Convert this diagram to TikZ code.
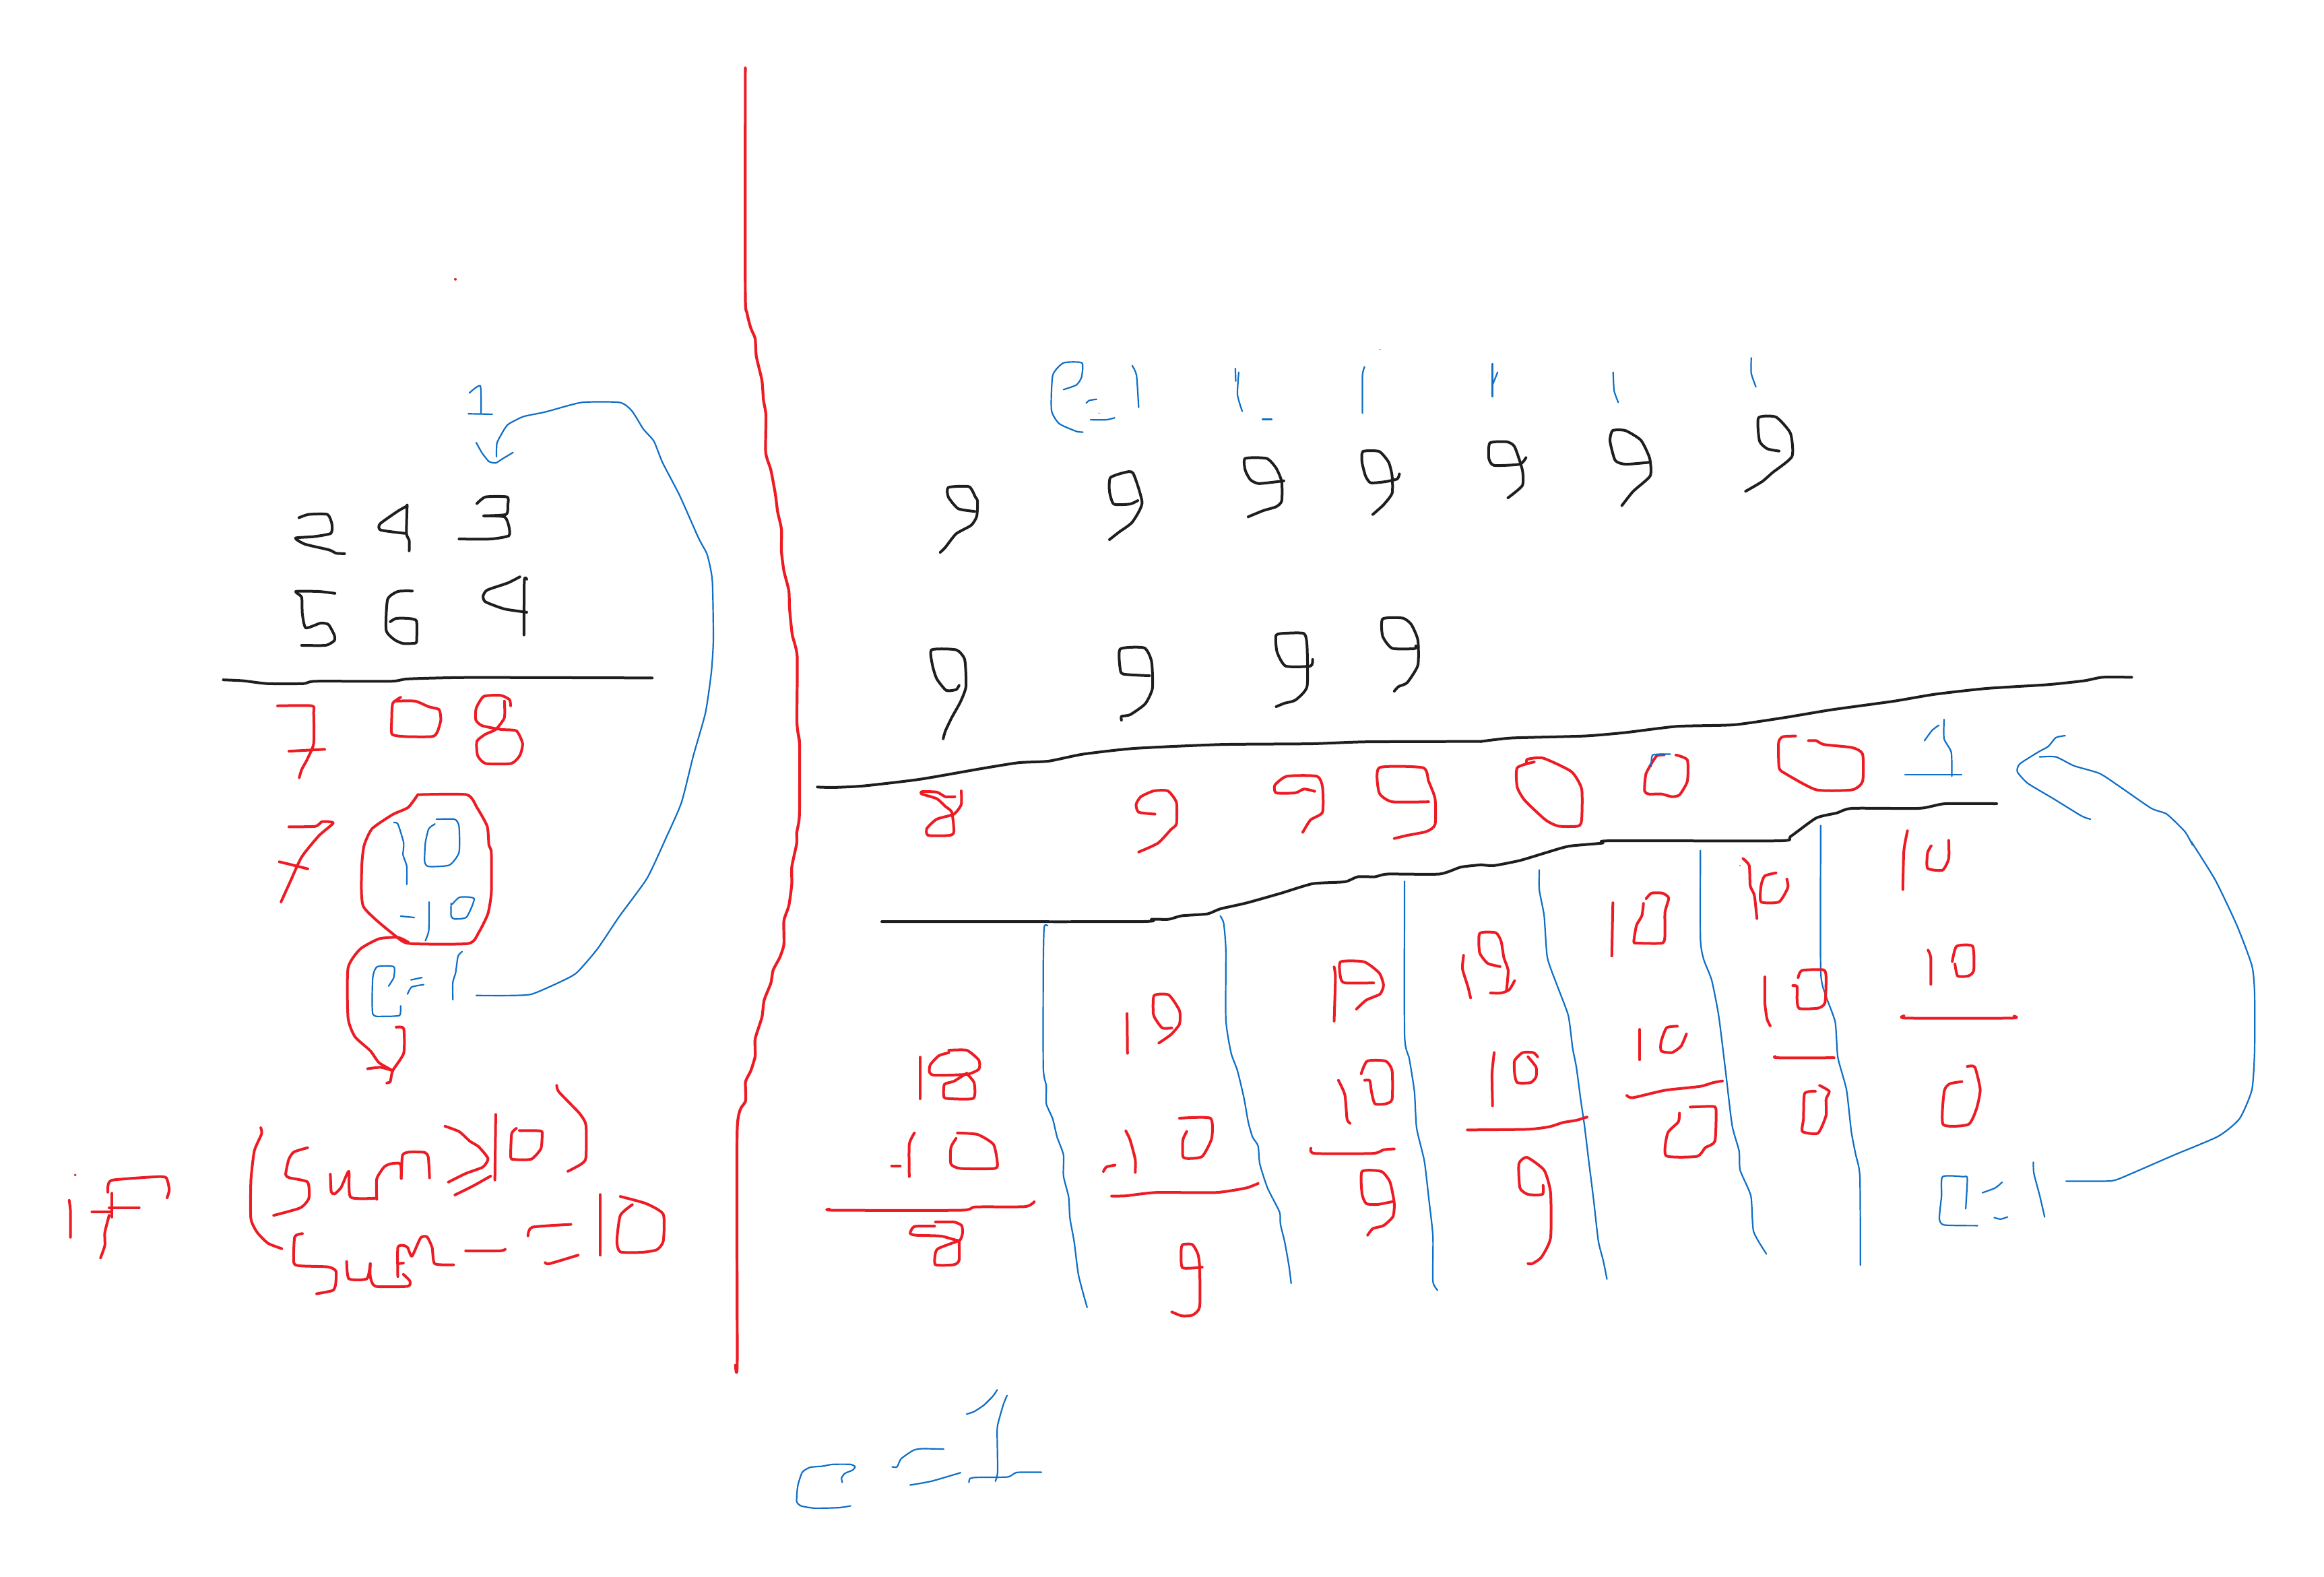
\documentclass[tikz,border=0pt]{standalone}
\usepackage{xcolor}
\definecolor{inkred}{HTML}{ED1C24}
\definecolor{inkblack}{HTML}{1E1E1E}
\definecolor{inkblue}{HTML}{0F6FC6}
\tikzset{
  zv/.style n args={4}{shift={(#1*0.01cm,-#2*0.01cm)},
     x={(#3*0.28453pt,0pt)},y={(0pt,-#4*0.28453pt)}},
  redink/.style={draw=inkred,line width=0.04cm,line cap=round,line join=round},
  blackink/.style={draw=inkblack,line width=0.04cm,line cap=round,line join=round},
  blueink/.style={draw=inkblue,line width=0.022cm,line cap=round,line join=round}
}
\newcommand\rstroke[1]{\draw[redink] plot[smooth,tension=0.35] coordinates {#1};}
\newcommand\kstroke[1]{\draw[blackink] plot[smooth,tension=0.35] coordinates {#1};}
\newcommand\bstroke[1]{\draw[blueink] plot[smooth,tension=0.35] coordinates {#1};}
\begin{document}
\begin{tikzpicture}
\fill[white] (0,0) rectangle (34.5,-23.4);
\useasboundingbox (0,0) rectangle (34.5,-23.4);
% ---------- left sum
\begin{scope}[zv={300}{550}{800/1568}{1100/1568}]
\bstroke{(778,48)(810,33)(812,92)}
\bstroke{(775,92)(845,93)}
\bstroke{(798,153)(815,175)(835,193)(855,196)(875,187)(905,174)}
\bstroke{(857,183)(858,155)(870,137)(890,115)(935,98)(1000,88)(1105,68)(1215,68)(1250,85)(1285,125)(1315,150)(1340,195)(1390,265)(1445,355)(1470,390)(1485,445)(1488,570)(1482,640)(1465,725)(1430,815)(1395,915)(1350,990)(1295,1075)(1215,1155)(1150,1225)(1090,1275)(1040,1295)(960,1320)(900,1323)(798,1323)}
\kstroke{(282,312)(310,305)(365,305)(378,325)(375,345)(325,352)(272,355)(300,368)(370,380)(390,387)(415,388)}
\kstroke{(597,287)(570,298)(518,325)(520,338)(590,345)}
\kstroke{(597,285)(595,345)(603,360)(603,382)}
\kstroke{(800,282)(825,268)(888,268)(890,285)(885,305)(820,308)}
\kstroke{(820,308)(880,310)(893,330)(893,350)(840,357)(748,357)}
\kstroke{(387,472)(340,468)(273,468)(290,480)(292,515)(302,545)(345,535)(368,538)(385,560)(385,572)(360,582)(290,582)}
\kstroke{(612,467)(570,468)(540,485)(536,550)(560,570)(585,578)(622,577)(625,565)(624,530)(600,525)(565,525)(548,532)}
\kstroke{(925,437)(890,450)(830,465)(818,478)(825,490)(880,505)(945,512)}
\kstroke{(945,442)(938,445)(937,560)}
\kstroke{(62,655)(120,657)(190,663)(295,663)(330,658)(550,658)(600,653)(780,650)(1310,651)}
\rstroke{(220,710)(320,710)(325,725)(325,790)(305,825)(290,845)(283,862)}
\rstroke{(253,806)(357,802)}
\rstroke{(578,692)(555,705)(552,740)(553,770)(590,775)(670,775)(685,765)(695,740)(690,718)(660,712)(620,700)(560,700)}
\rstroke{(898,710)(895,697)(870,688)(820,690)(798,715)(797,740)(815,752)(870,760)(915,763)(933,790)(925,815)(900,832)(825,832)(802,815)(800,785)(825,770)(855,760)(880,735)(880,700)}
\rstroke{(253,966)(330,965)(350,955)(382,958)(340,985)(290,1030)(255,1085)(230,1125)}
\rstroke{(225,1040)(270,1048)(308,1055)}
\rstroke{(628,898)(770,898)(800,925)(830,965)(835,1005)(842,1020)(842,1105)(832,1150)(805,1190)(775,1213)(605,1213)(565,1198)(470,1135)(465,1050)(472,1005)(495,970)(555,940)(600,925)(628,898)}
\rstroke{(600,1210)(570,1200)(515,1203)(460,1225)(425,1265)(425,1370)(445,1410)(490,1440)(515,1465)(555,1482)}
\rstroke{(565,1390)(587,1393)(587,1445)(555,1482)(548,1505)(538,1508)}
\rstroke{(482,1478)(520,1475)(555,1482)}
\bstroke{(558,957)(570,960)(587,1000)(585,1025)(596,1050)(596,1088)}
\bstroke{(678,960)(660,970)(650,1000)(648,1040)(660,1050)(720,1047)(748,1020)(748,965)(735,950)(682,950)}
\bstroke{(578,1155)(618,1158)}
\bstroke{(661,1125)(660,1185)(650,1207)}
\bstroke{(725,1128)(725,1155)(735,1161)(770,1157)(792,1118)(750,1115)(728,1130)}
\bstroke{(543,1303)(558,1285)(558,1262)(510,1262)(497,1285)(497,1362)(530,1367)(575,1365)(578,1345)}
\bstroke{(608,1290)(640,1285)}
\bstroke{(598,1320)(610,1305)(645,1300)}
\bstroke{(757,1230)(745,1240)(738,1275)(730,1295)(730,1332)}
\end{scope}
% ---------- if (sum>10) sum-=10
\begin{scope}[zv={60}{1550}{1000/1568}{500/1568}]
\fill[inkred] (81,612) ellipse (3 and 6);
\rstroke{(67,730)(70,780)(70,902)}
\rstroke{(295,718)(300,680)(293,625)(270,620)(170,635)(158,655)(157,692)}
\rstroke{(167,697)(167,808)}
\rstroke{(160,800)(150,880)(150,940)(140,998)}
\rstroke{(120,783)(165,783)}
\rstroke{(160,765)(230,765)}
\rstroke{(513,392)(515,420)(498,500)(490,640)(490,815)(505,880)(530,930)(562,955)}
\rstroke{(622,485)(590,505)(578,540)(571,610)(580,625)(622,645)(625,720)(605,765)(543,800)}
\rstroke{(675,608)(677,690)(685,700)(700,670)(718,595)(722,715)(780,720)}
\rstroke{(783,725)(783,630)(800,575)(815,560)(838,560)(840,628)}
\rstroke{(840,628)(843,520)(860,505)(895,507)(903,530)(906,625)}
\rstroke{(942,385)(975,410)(1000,455)(1020,480)(1042,535)(1030,575)(990,605)(950,645)}
\rstroke{(965,705)(1010,660)(1048,617)}
\rstroke{(1060,330)(1058,635)}
\rstroke{(1108,395)(1097,420)(1095,530)(1105,540)(1143,538)(1165,490)(1168,430)(1165,407)(1115,405)}
\rstroke{(1202,195)(1207,225)(1255,325)(1270,380)(1270,530)(1260,560)(1228,595)}
\rstroke{(610,885)(592,900)(590,1020)(605,1035)(670,1040)(688,1060)(687,1125)(680,1150)(643,1165)}
\rstroke{(713,1015)(718,1095)(760,1095)(768,1025)}
\rstroke{(768,1025)(768,1085)(780,1130)(855,1130)(860,1105)(845,1075)}
\rstroke{(832,1085)(832,950)(845,940)(855,950)(865,990)(885,905)(900,900)(912,950)(918,1025)(962,1030)}
\rstroke{(832,1025)(845,1022)}
\rstroke{(990,965)(1070,965)(1082,958)}
\rstroke{(1135,895)(1145,855)(1235,842)}
\rstroke{(1175,1020)(1185,1025)(1252,985)}
\rstroke{(1303,703)(1303,985)}
\rstroke{(1350,712)(1410,745)(1450,795)(1450,920)(1435,960)(1400,972)(1350,970)(1342,920)(1350,800)(1378,750)}
\end{scope}
% ---------- the tall red divider
\begin{scope}[zv={1050}{80}{1/3}{1020/1568}]
\draw[redink,line width=0.042cm] plot[smooth,tension=0.35] coordinates {(171,32)(171,545)(178,590)(195,625)(215,650)(220,690)(245,745)(252,790)(263,825)(262,910)(285,950)(305,1005)(315,1045)(332,1085)(332,1135)(343,1180)(365,1225)(368,1265)(380,1325)(402,1375)(401,1525)(412,1568)};
\end{scope}
\begin{scope}[zv={1050}{1090}{1/3}{1000/1568}]
\draw[redink,line width=0.042cm] plot[smooth,tension=0.35] coordinates {(407,0)(413,30)(412,190)(400,230)(400,255)(378,310)(378,350)(365,400)(343,435)(343,490)(325,520)(295,550)(285,580)(255,620)(245,660)(215,710)(215,750)(195,785)(172,810)(172,855)(135,920)(135,1460)(127,1470)};
\end{scope}
% ---------- bottom c=1 and the stray dot
\begin{scope}[zv={1150}{2050}{1/3}{1/3}]
\bstroke{(303,455)(300,435)(315,415)(350,400)(360,385)(340,375)(260,375)(215,383)(160,388)(125,410)(105,470)(100,540)(120,560)(180,570)(285,568)(340,560)}
\bstroke{(525,386)(547,386)(565,350)(620,312)(660,305)(755,307)}
\bstroke{(605,467)(700,450)(830,412)}
\bstroke{(857,151)(890,140)(935,110)(975,70)(993,43)}
\bstroke{(1037,68)(1020,110)(995,200)(993,250)(995,410)(985,450)}
\bstroke{(867,455)(872,438)(900,433)(1040,431)(1080,411)(1190,410)}
\end{scope}
\fill[inkred] (6.76,-4.147) circle (0.02);
% ---------- right sum, upper left part
\begin{scope}[zv={1200}{500}{1000/1568}{900/1568}]
\bstroke{(595,137)(625,125)(637,105)(638,68)(595,68)(570,100)(567,190)(585,225)(625,245)(640,247)}
\bstroke{(648,172)(655,165)(672,162)}
\bstroke{(658,215)(695,215)(714,210)}
\fill[inkblue] (678,198) circle (1.5);
\bstroke{(755,75)(765,100)(770,183)}
\bstroke{(995,82)(996,115)}
\bstroke{(1003,92)(1000,150)(1011,193)}
\bstroke{(1058,214)(1080,214)}
\bstroke{(1296,78)(1291,100)(1291,198)}
\fill[inkblue] (1332,33) circle (1.5);
\kstroke{(388,452)(350,445)(327,415)(327,390)(375,388)(390,415)(395,425)(393,465)(380,488)(345,510)(320,545)(308,558)}
\kstroke{(768,424)(750,433)(712,433)(702,400)(704,365)(735,352)(757,353)(778,430)(755,480)(725,505)(702,525)}
\kstroke{(1108,373)(1050,380)(1030,370)(1018,345)(1018,315)(1068,315)(1090,340)(1103,375)(1103,425)(1090,440)(1060,450)(1025,466)}
\kstroke{(1377,355)(1372,368)(1345,375)(1310,378)(1298,360)(1290,325)(1292,297)(1330,297)(1352,325)(1360,360)(1360,405)(1340,435)(1315,460)}
\kstroke{(352,902)(345,913)(322,915)(300,885)(290,850)(288,810)(345,810)(365,835)(368,905)(355,945)(335,985)(320,1020)(315,1040)}
\kstroke{(795,877)(735,873)(727,860)(727,808)(783,805)(800,840)(802,910)(785,950)(750,978)(730,982)(730,992)}
\kstroke{(1175,835)(1170,852)(1112,852)(1092,815)(1090,772)(1115,767)(1155,768)(1162,800)(1162,905)(1135,940)(1110,948)(1090,957)}
\kstroke{(1415,800)(1412,807)(1360,806)(1338,775)(1338,730)(1385,728)(1405,745)(1420,785)(1420,850)(1395,895)(1375,905)(1365,917)}
\kstroke{(22,1165)(60,1166)(130,1162)(260,1145)(400,1118)(490,1102)(560,1098)(640,1080)(760,1065)(960,1055)(1170,1053)(1300,1048)(1568,1047)}
\rstroke{(342,1190)(320,1190)(300,1178)(265,1177)(265,1183)(300,1195)(320,1215)(335,1230)(340,1280)(330,1290)(280,1290)(277,1272)(300,1248)(340,1235)(357,1210)(357,1175)}
\rstroke{(808,1235)(770,1230)(764,1210)(775,1190)(805,1175)(838,1175)(858,1205)(858,1260)(845,1275)(815,1310)(770,1333)}
\rstroke{(1180,1176)(1155,1170)(1135,1180)(1090,1180)(1087,1160)(1115,1137)(1185,1137)(1198,1165)(1198,1230)(1170,1250)(1152,1282)}
\rstroke{(1445,1203)(1360,1203)(1330,1180)(1330,1115)(1432,1115)(1445,1150)(1460,1195)(1460,1262)(1440,1280)(1395,1290)(1365,1298)}
\kstroke{(172,1513)(770,1513)(800,1507)(840,1507)(870,1498)(930,1493)(960,1480)(1020,1465)(1100,1440)(1175,1415)(1250,1410)(1280,1397)(1320,1397)(1350,1390)(1470,1390)(1520,1372)(1568,1366)}
\end{scope}
% ---------- right sum, upper right part
\begin{scope}[zv={2200}{500}{1200/1568}{900/1568}]
\bstroke{(22,70)(22,155)}
\bstroke{(32,92)(22,125)}
\bstroke{(256,92)(258,140)(266,170)}
\bstroke{(524,55)(524,95)(533,130)}
\kstroke{(87,313)(75,330)(25,333)(15,315)(17,275)(50,272)(65,285)(80,345)(80,385)(52,417)}
\kstroke{(327,325)(280,330)(260,320)(250,270)(255,243)(280,243)(310,268)(327,315)(328,360)(295,400)(273,437)}
\kstroke{(578,296)(555,290)(540,270)(538,210)(572,208)(600,250)(603,310)(565,352)(545,375)(513,400)}
\kstroke{(0,1047)(60,1038)(200,1033)(280,1024)(380,1008)(490,1004)(590,985)(680,965)(800,943)(880,925)(980,910)(1100,900)(1170,890)(1205,881)(1262,881)}
\kstroke{(0,1366)(25,1368)(75,1355)(125,1335)(170,1318)(235,1310)(250,1304)(578,1304)(600,1293)(650,1245)(690,1232)(720,1220)(850,1220)(900,1208)(1000,1208)}
\rstroke{(88,1102)(90,1093)(120,1090)(175,1125)(195,1170)(195,1250)(188,1266)(150,1266)(125,1250)(85,1200)(70,1165)(70,1115)(103,1100)}
\rstroke{(355,1082)(340,1085)(320,1130)(317,1175)(325,1183)(350,1183)(370,1190)(385,1185)(400,1150)(400,1095)(378,1082)}
\bstroke{(330,1112)(333,1082)(367,1080)}
\rstroke{(610,1033)(585,1035)(577,1050)(578,1115)(590,1130)(650,1172)(720,1172)(740,1150)(740,1080)(720,1063)(665,1055)(650,1045)(635,1045)}
\bstroke{(860,1045)(875,1018)(888,1005)}
\bstroke{(898,990)(898,1040)(912,1075)(913,1137)}
\bstroke{(822,1133)(932,1133)}
\bstroke{(1133,1032)(1115,1037)(1100,1060)(1080,1075)(1045,1105)(1040,1125)(1060,1155)(1110,1195)(1165,1240)(1182,1248)}
\bstroke{(1083,1087)(1115,1087)(1150,1110)(1200,1130)(1240,1165)(1300,1220)(1330,1235)(1365,1280)(1380,1315)}
\rstroke{(827,1278)(820,1330)(818,1430)}
\rstroke{(873,1317)(866,1335)(866,1375)(895,1380)(907,1350)(907,1303)}
\fill[inkred] (502,1368) circle (1.5);
\rstroke{(508,1350)(520,1368)(522,1420)(530,1445)(535,1505)}
\rstroke{(572,1387)(550,1395)(543,1420)(543,1462)(578,1462)(595,1425)(593,1403)}
\end{scope}
% ---------- lower columns, left
\begin{scope}[zv={1200}{1300}{1000/1568}{700/1568}]
\bstroke{(1389,20)(1389,530)(1400,610)(1412,720)(1417,840)(1435,950)(1445,1070)(1455,1200)(1455,1350)(1466,1380)}
\bstroke{(960,135)(968,160)(973,250)(973,480)(985,590)(1000,650)(1015,740)(1025,820)(1035,870)(1048,900)(1052,960)(1070,1040)(1098,1120)(1100,1160)(1110,1220)(1120,1300)(1125,1357)}
\bstroke{(558,168)(550,172)(548,300)(548,640)(555,700)(555,760)(570,810)(580,870)(595,930)(595,1000)(607,1070)(610,1140)(620,1220)(630,1330)(650,1437)}
\rstroke{(261,605)(261,743)}
\rstroke{(328,590)(305,600)(285,630)(283,655)(295,665)(370,662)(398,645)(398,615)(370,582)(328,582)}
\rstroke{(370,658)(340,685)(318,695)(316,730)(322,742)(385,742)(387,690)(370,660)}
\rstroke{(195,966)(215,966)}
\rstroke{(248,857)(236,895)(236,1002)}
\rstroke{(345,875)(333,905)(333,960)(355,975)(435,975)(441,955)(432,895)(395,862)(348,857)}
\rstroke{(50,1110)(60,1114)(355,1114)(390,1103)(505,1102)(527,1086)}
\rstroke{(295,1167)(248,1168)(238,1190)(250,1197)(310,1200)(352,1215)(360,1190)(358,1165)(340,1153)(297,1153)}
\rstroke{(352,1215)(305,1240)(297,1255)(297,1295)(340,1295)(352,1280)(352,1215)}
\rstroke{(743,460)(744,592)}
\rstroke{(847,508)(825,508)(810,480)(804,460)(806,400)(840,398)(865,450)(865,495)(845,530)(817,558)}
\rstroke{(688,985)(695,970)(715,964)}
\rstroke{(740,850)(750,880)(762,945)(762,988)}
\rstroke{(882,852)(873,880)(873,935)(885,942)(918,935)(940,875)(937,808)(865,808)}
\rstroke{(707,1067)(740,1066)(810,1055)(950,1055)(1020,1040)(1048,1025)}
\rstroke{(918,1303)(872,1305)(869,1245)(873,1228)(895,1228)(908,1260)(912,1305)(912,1435)(895,1463)(870,1465)(847,1452)}
\rstroke{(1225,305)(1228,340)(1225,485)}
\rstroke{(1317,358)(1250,358)(1240,340)(1240,288)(1295,288)(1330,325)(1340,365)(1332,395)(1300,415)(1277,445)}
\rstroke{(1235,682)(1250,730)(1255,810)(1262,825)}
\rstroke{(1288,660)(1302,618)(1345,618)(1360,650)(1360,745)(1345,760)(1320,760)(1312,720)(1308,683)(1296,682)}
\rstroke{(1171,908)(1180,925)(1315,925)(1340,913)(1365,910)}
\rstroke{(1362,1085)(1325,1095)(1300,1092)(1290,1060)(1290,985)(1335,985)(1355,1020)(1365,1090)(1362,1135)(1340,1165)(1315,1175)(1303,1197)}
\end{scope}
% ---------- lower columns, right
\begin{scope}[zv={2150}{1250}{1250/1568}{750/1568}]
\bstroke{(1385,0)(1430,120)(1470,260)(1498,385)(1503,470)(1503,650)(1498,770)(1475,860)(1435,915)(1350,975)(1250,1047)(1225,1054)(1152,1054)}
\bstroke{(171,88)(171,150)(180,230)(186,360)(205,450)(225,540)(233,640)(240,700)(248,800)(255,880)(263,990)(272,1110)(281,1240)(290,1300)(297,1358)}
\bstroke{(471,28)(471,300)(477,365)(492,430)(505,540)(517,700)(530,880)(543,960)(545,1020)(565,1100)(570,1210)(594,1280)}
\bstroke{(695,-50)(695,400)(705,480)(722,560)(727,670)(743,770)(752,900)(760,970)(768,1040)(769,1315)}
\rstroke{(30,353)(28,395)(38,450)(43,485)}
\rstroke{(98,388)(75,378)(60,345)(60,285)(90,283)(100,310)(105,360)(113,400)(110,460)}
\rstroke{(125,432)(115,460)(100,470)(80,470)}
\rstroke{(87,655)(83,720)(84,820)}
\rstroke{(150,668)(165,700)(165,730)(155,748)(130,748)(125,720)(125,680)(140,655)(160,655)(168,668)}
\rstroke{(37,895)(150,893)(190,885)(215,872)(240,865)(260,855)}
\rstroke{(178,1067)(177,1095)(150,1095)(135,1075)(133,1000)(148,980)(180,1020)(192,1090)(192,1230)(175,1290)(158,1310)(150,1310)}
\rstroke{(308,190)(306,355)}
\rstroke{(365,192)(362,230)(352,260)(347,310)(352,315)(400,315)(405,290)(405,220)(412,175)(400,160)(380,160)(370,177)}
\rstroke{(358,583)(358,677)}
\rstroke{(428,573)(408,578)(398,620)(398,650)(418,655)(435,635)(445,597)}
\rstroke{(334,788)(345,795)(405,772)(470,760)(495,748)(512,743)}
\rstroke{(432,843)(430,870)(410,905)(407,975)(465,977)(480,950)(498,930)(500,830)(490,822)(452,824)}
\rstroke{(591,420)(591,500)(595,550)(601,572)}
\rstroke{(653,422)(660,400)(700,398)(705,420)(703,500)(690,517)(655,518)(651,490)(651,450)(643,447)}
\rstroke{(610,667)(615,671)(720,671)}
\rstroke{(685,775)(665,782)(663,860)(661,900)(690,905)(705,850)(705,800)(711,775)(693,757)}
\rstroke{(895,337)(900,360)(900,443)}
\rstroke{(940,372)(948,325)(978,325)(980,400)(970,417)(950,417)(945,380)}
\rstroke{(850,541)(855,548)(1050,548)(1055,542)}
\rstroke{(958,745)(935,752)(925,775)(923,878)(970,878)(985,830)(992,770)(982,700)(968,698)}
\bstroke{(965,1140)(968,1045)(960,1040)(922,1040)(920,1100)(916,1170)(925,1190)(987,1192)}
\bstroke{(996,1090)(1020,1075)(1033,1057)}
\bstroke{(1018,1167)(1030,1172)(1043,1165)}
\bstroke{(1091,995)(1092,1030)(1103,1100)(1112,1165)}
\end{scope}
\end{tikzpicture}
\end{document}
